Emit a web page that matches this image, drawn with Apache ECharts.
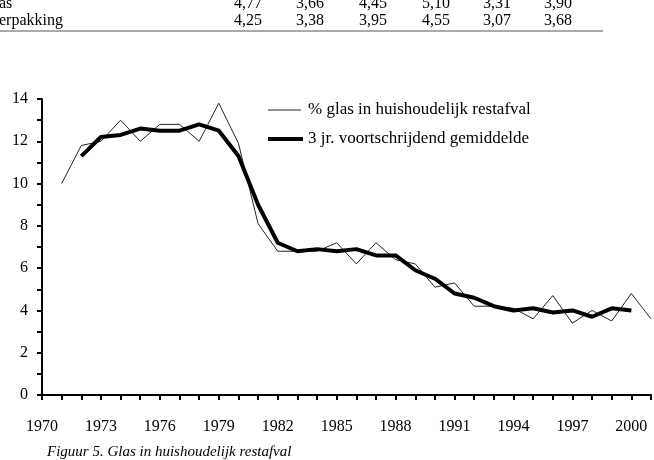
<!DOCTYPE html>
<html><head><meta charset="utf-8">
<script src="https://cdn.jsdelivr.net/npm/echarts@6/dist/echarts.min.js"></script>
<style>html,body{margin:0;padding:0;background:#fff}#c{width:654px;height:460px}</style>
</head><body><div id="c"></div>
<script>
var yearsRaw = [1971,1972,1973,1974,1975,1976,1977,1978,1979,1980,1981,1982,1983,1984,1985,1986,1987,1988,1989,1990,1991,1992,1993,1994,1995,1996,1997,1998,1999,2000,2001];
var glasPct = [10.0,11.8,12.0,13.0,12.0,12.8,12.8,12.0,13.8,11.9,8.1,6.8,6.8,6.8,7.2,6.2,7.2,6.4,6.2,5.1,5.3,4.2,4.2,4.1,3.6,4.7,3.4,4.0,3.5,4.8,3.6];
var yearsAvg = [1972,1973,1974,1975,1976,1977,1978,1979,1980,1981,1982,1983,1984,1985,1986,1987,1988,1989,1990,1991,1992,1993,1994,1995,1996,1997,1998,1999,2000];
var movingAvg = [11.3,12.2,12.3,12.6,12.5,12.5,12.8,12.5,11.3,9.0,7.2,6.8,6.9,6.8,6.9,6.6,6.6,5.9,5.5,4.8,4.6,4.2,4.0,4.1,3.9,4.0,3.7,4.1,4.0];
var seriesNames = ['% glas in huishoudelijk restafval', '3 jr. voortschrijdend gemiddelde'];
var tableRow1Label = 'as';
var tableRow1 = ['4,77','3,66','4,45','5,10','3,31','3,90'];
var tableRow2Label = 'erpakking';
var tableRow2 = ['4,25','3,38','3,95','4,55','3,07','3,68'];
var caption = 'Figuur 5. Glas in huishoudelijk restafval';

var FONT = '"Liberation Serif", "Times New Roman", serif';
var colX = [248, 310, 373, 436, 497, 558];
var graphics = [];
graphics.push({type:'text', left:-1, top:-4, style:{text:tableRow1Label, font:'16px '+FONT, fill:'#000'}});
graphics.push({type:'text', left:-1, top:13, style:{text:tableRow2Label, font:'16px '+FONT, fill:'#000'}});
for (var i=0;i<tableRow1.length;i++){
  graphics.push({type:'text', x:colX[i], y:-4, style:{text:tableRow1[i], font:'16px '+FONT, fill:'#000', align:'center'}});
  graphics.push({type:'text', x:colX[i], y:13, style:{text:tableRow2[i], font:'16px '+FONT, fill:'#000', align:'center'}});
}
graphics.push({type:'line', shape:{x1:0,y1:31,x2:603,y2:31}, style:{stroke:'#555', lineWidth:1}});
graphics.push({type:'text', left:47, top:445, style:{text:caption, font:'italic 15px '+FONT, fill:'#000'}});
// legend
graphics.push({type:'line', shape:{x1:268,y1:110,x2:301,y2:110}, style:{stroke:'#222', lineWidth:1}});
graphics.push({type:'text', x:308, y:110, style:{text:seriesNames[0], font:'17px '+FONT, fill:'#000', verticalAlign:'middle'}});
graphics.push({type:'line', shape:{x1:268,y1:139,x2:303,y2:139}, style:{stroke:'#000', lineWidth:4}});
graphics.push({type:'text', x:308, y:139, style:{text:seriesNames[1], font:'17px '+FONT, fill:'#000', verticalAlign:'middle'}});

var chart = echarts.init(document.getElementById('c'), null, {renderer:'canvas'});
chart.setOption({
  animation:false,
  backgroundColor:'#fff',
  textStyle:{fontFamily:FONT},
  grid:{left:42, right:2, top:99, bottom:65, containLabel:false},
  xAxis:{
    type:'value', min:1970, max:2001, interval:1,
    axisLine:{lineStyle:{color:'#000', width:2}},
    axisTick:{show:true, length:5, inside:false, lineStyle:{color:'#000', width:2}},
    splitLine:{show:false},
    axisLabel:{margin:24, fontFamily:FONT, fontSize:16, color:'#000',
      formatter:function(v){return ((v-1970)%3===0)? String(v):'';}}
  },
  yAxis:{
    type:'value', min:0, max:14, interval:1,
    axisLine:{show:true, lineStyle:{color:'#000', width:2}},
    axisTick:{show:true, length:5, lineStyle:{color:'#000', width:2}},
    splitLine:{show:false},
    axisLabel:{margin:14, fontFamily:FONT, fontSize:16, color:'#000',
      formatter:function(v){return (v%2===0)? String(v):'';}}
  },
  series:[
    {name:seriesNames[0], type:'line', symbol:'none', showSymbol:false,
     lineStyle:{color:'#222', width:1}, itemStyle:{color:'#222'},
     data:yearsRaw.map(function(y,i){return [y, glasPct[i]];}), z:3},
    {name:seriesNames[1], type:'line', symbol:'none', showSymbol:false,
     lineStyle:{color:'#000', width:4}, itemStyle:{color:'#000'},
     data:yearsAvg.map(function(y,i){return [y, movingAvg[i]];}), z:4}
  ],
  graphic:graphics
});
</script></body></html>
